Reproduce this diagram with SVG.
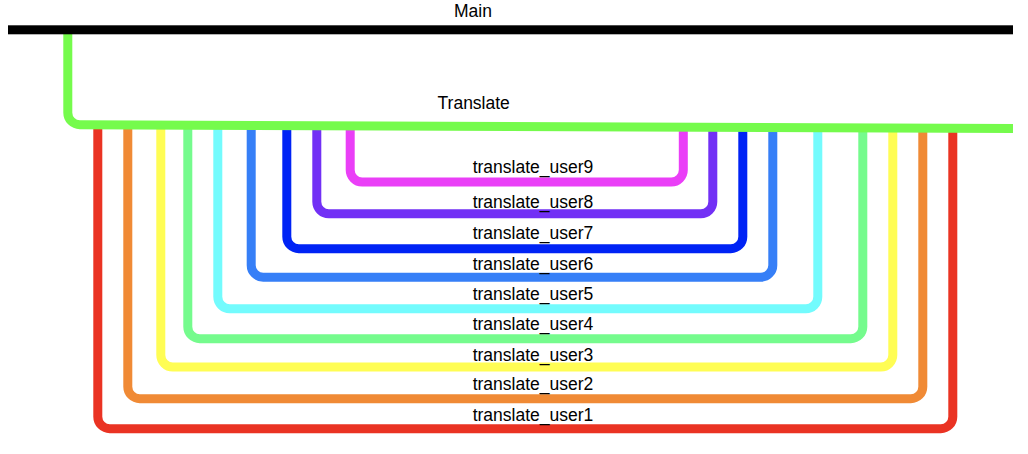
<svg xmlns="http://www.w3.org/2000/svg" width="1028" height="454" viewBox="0 0 1028 454">
<style>
.lbl{font-family:"Liberation Sans",Arial,sans-serif;font-size:17.5px;fill:#000;text-anchor:middle}
.ln{fill:none;stroke-width:9;stroke-linejoin:round;stroke-linecap:butt}
</style>
<rect width="1028" height="454" fill="#fff"/>
<g id="connectors">
<path id="c-user1" class="ln" stroke="#EA3323" d="M97.8,129 V416.7 A12,12 0 0 0 109.8,428.7 H940.8 A12,12 0 0 0 952.8,416.7 V129"/>
<path id="c-user2" class="ln" stroke="#F08A35" d="M127.8,129 V386.7 A12,12 0 0 0 139.8,398.7 H910.8 A12,12 0 0 0 922.8,386.7 V129"/>
<path id="c-user3" class="ln" stroke="#FFFD54" d="M160.8,129 V355 A12,12 0 0 0 172.8,367 H880.8 A12,12 0 0 0 892.8,355 V129"/>
<path id="c-user4" class="ln" stroke="#75FB8D" d="M187.8,129 V326.7 A12,12 0 0 0 199.8,338.7 H850.8 A12,12 0 0 0 862.8,326.7 V129"/>
<path id="c-user5" class="ln" stroke="#73FBFD" d="M217.8,129 V296.8 A12,12 0 0 0 229.8,308.8 H805.8 A12,12 0 0 0 817.8,296.8 V129"/>
<path id="c-user6" class="ln" stroke="#367FF7" d="M251.2,129 V265.2 A12,12 0 0 0 263.2,277.2 H760.8 A12,12 0 0 0 772.8,265.2 V129"/>
<path id="c-user7" class="ln" stroke="#0023F5" d="M286.8,129 V236.7 A12,12 0 0 0 298.8,248.7 H730.8 A12,12 0 0 0 742.8,236.7 V129"/>
<path id="c-user8" class="ln" stroke="#7230F5" d="M316.8,129 V201.8 A12,12 0 0 0 328.8,213.8 H700.8 A12,12 0 0 0 712.8,201.8 V129"/>
<path id="c-user9" class="ln" stroke="#EA3FF7" d="M350.2,129 V170 A12,12 0 0 0 362.2,182 H671.3 A12,12 0 0 0 683.3,170 V129"/>
<path id="c-translate" class="ln" stroke="#75FB4C" d="M67.8,34 V112.7 A12,12 0 0 0 79.8,124.7 L1013,128.4"/>
</g>
<g id="main">
<rect x="8" y="25.3" width="1005" height="9" fill="#000"/>
<text class="lbl" x="473" y="17.3">Main</text>
</g>
<g id="translate">
<text class="lbl" x="473.7" y="109">Translate</text>
</g>
<g id="translate_user9"><text class="lbl" x="533" y="173.3">translate_user9</text></g>
<g id="translate_user8"><text class="lbl" x="533" y="208.3">translate_user8</text></g>
<g id="translate_user7"><text class="lbl" x="533" y="239.3">translate_user7</text></g>
<g id="translate_user6"><text class="lbl" x="533" y="269.5">translate_user6</text></g>
<g id="translate_user5"><text class="lbl" x="533" y="299.5">translate_user5</text></g>
<g id="translate_user4"><text class="lbl" x="533" y="330">translate_user4</text></g>
<g id="translate_user3"><text class="lbl" x="533" y="360.7">translate_user3</text></g>
<g id="translate_user2"><text class="lbl" x="533" y="390">translate_user2</text></g>
<g id="translate_user1"><text class="lbl" x="533" y="420.7">translate_user1</text></g>
</svg>
